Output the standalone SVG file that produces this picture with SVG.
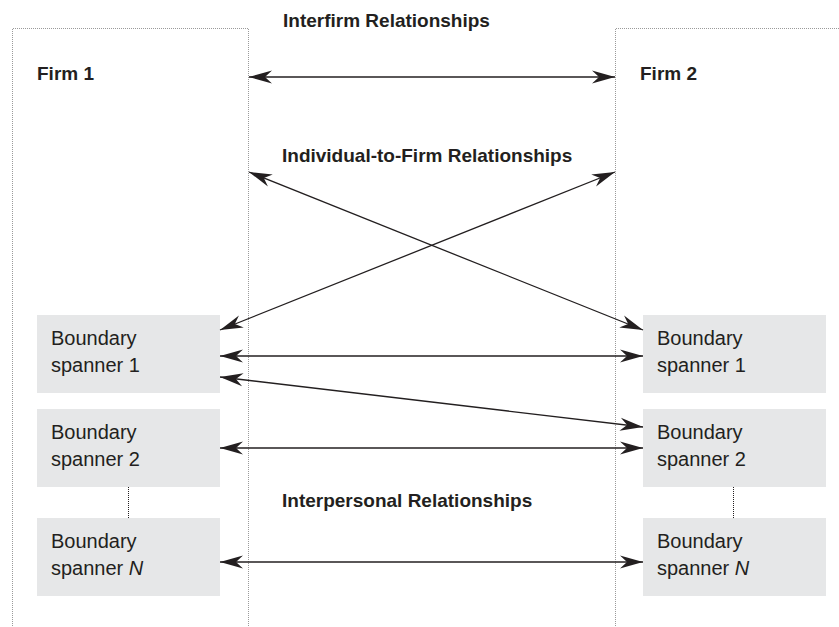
<svg xmlns="http://www.w3.org/2000/svg" width="839" height="627" viewBox="0 0 839 627">
<style>
  .bg { fill: #ffffff; }
  .frame { fill: none; stroke: #9a9a9a; stroke-width: 1; stroke-dasharray: 1 1; }
  .box { fill: #e6e7e8; stroke: none; }
  .lbl { font-family: "Liberation Sans", Arial, sans-serif; font-size: 20px; fill: #231f20; }
  .head { font-family: "Liberation Sans", Arial, sans-serif; font-size: 19px; font-weight: bold; fill: #231f20; }
  .conn { stroke: #231f20; stroke-width: 1.3; fill: none; marker-start: url(#arr); marker-end: url(#arr); }
  .dots { stroke: #231f20; stroke-width: 1; stroke-dasharray: 1 1; fill: none; }
</style>
<defs>
  <marker id="arr" markerUnits="userSpaceOnUse" markerWidth="26" markerHeight="16" viewBox="-24 -8 26 16" refX="0" refY="0" orient="auto-start-reverse">
    <path d="M0,0 L-23,-6.5 L-16,0 L-23,6.5 Z" fill="#231f20"/>
  </marker>
</defs>
<rect class="bg" x="0" y="0" width="839" height="627"/>

<g id="frames">
  <path class="frame" d="M12.5,626 V28.5 H248.5 V626"/>
  <path class="frame" d="M615.5,626 V28.5 H839"/>
</g>

<g id="labels">
  <text class="head" x="283" y="27">Interfirm Relationships</text>
  <text class="head" x="282" y="162">Individual-to-Firm Relationships</text>
  <text class="head" x="282" y="507">Interpersonal Relationships</text>
</g>

<g id="firm1"><text class="head" x="37" y="80">Firm 1</text></g>
<g id="firm2"><text class="head" x="640" y="80">Firm 2</text></g>

<g id="bs1-left">
  <rect class="box" x="37" y="315" width="183" height="78"/>
  <text class="lbl" x="51" y="345">Boundary</text>
  <text class="lbl" x="51" y="372">spanner 1</text>
</g>
<g id="bs2-left">
  <rect class="box" x="37" y="409" width="183" height="78"/>
  <text class="lbl" x="51" y="439">Boundary</text>
  <text class="lbl" x="51" y="466">spanner 2</text>
</g>
<g id="bsN-left">
  <rect class="box" x="37" y="518" width="183" height="78"/>
  <text class="lbl" x="51" y="548">Boundary</text>
  <text class="lbl" x="51" y="575">spanner <tspan font-style="italic">N</tspan></text>
</g>
<g id="bs1-right">
  <rect class="box" x="643" y="315" width="183" height="78"/>
  <text class="lbl" x="657" y="345">Boundary</text>
  <text class="lbl" x="657" y="372">spanner 1</text>
</g>
<g id="bs2-right">
  <rect class="box" x="643" y="409" width="183" height="78"/>
  <text class="lbl" x="657" y="439">Boundary</text>
  <text class="lbl" x="657" y="466">spanner 2</text>
</g>
<g id="bsN-right">
  <rect class="box" x="643" y="518" width="183" height="78"/>
  <text class="lbl" x="657" y="548">Boundary</text>
  <text class="lbl" x="657" y="575">spanner <tspan font-style="italic">N</tspan></text>
</g>

<g id="connectors">
  <line class="conn" x1="249" y1="77" x2="615" y2="77"/>
  <line class="conn" x1="249" y1="172" x2="643" y2="330"/>
  <line class="conn" x1="615" y1="172" x2="220" y2="330"/>
  <line class="conn" x1="220" y1="356" x2="643" y2="356"/>
  <line class="conn" x1="220" y1="377" x2="643" y2="427"/>
  <line class="conn" x1="220" y1="448" x2="643" y2="448"/>
  <line class="conn" x1="220" y1="562" x2="643" y2="562"/>
  <line class="dots" x1="128.5" y1="487" x2="128.5" y2="518"/>
  <line class="dots" x1="733.5" y1="487" x2="733.5" y2="518"/>
</g>
</svg>
